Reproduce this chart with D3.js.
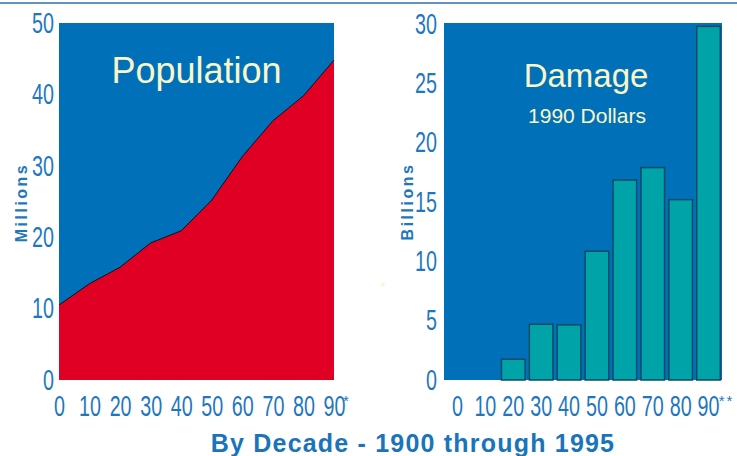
<!DOCTYPE html>
<html>
<head>
<meta charset="utf-8">
<script src="https://cdn.jsdelivr.net/npm/d3@7"></script>
<style>
  body { margin: 0; background: #fff; }
  svg { display: block; }
</style>
</head>
<body>
<div id="chart"></div>
<script>
const decades = ["0", "10", "20", "30", "40", "50", "60", "70", "80", "90"];
const population = [10.5, 13.5, 15.8, 19.2, 20.9, 25.2, 31.3, 36.3, 39.8, 44.8];
const damage = [0, 0, 1.75, 4.7, 4.65, 10.85, 16.85, 17.9, 15.2, 29.8];
const popTicks = [0, 10, 20, 30, 40, 50];
const dmgTicks = [0, 5, 10, 15, 20, 25, 30];

const W = 737, H = 456;
const blue = "#0071b9";
const labelBlue = "#1f77be";
const cream = "#fbf6c8";
const narrow = 0.68;

const svg = d3.select("#chart").append("svg")
  .attr("width", W).attr("height", H)
  .style("font-family", "'Liberation Sans', Arial, sans-serif");

// top rule
svg.append("line")
  .attr("x1", 0).attr("x2", W).attr("y1", 3).attr("y2", 3)
  .attr("stroke", "#2a6fad").attr("stroke-width", 1.5);

const styleAxis = (g, bottom) => {
  g.select(".domain").remove();
  g.selectAll("text")
    .attr("fill", labelBlue)
    .style("font-size", "29px")
    .attr("transform", `scale(${narrow},1)`);
  if (!bottom) g.selectAll("text").attr("x", -5 / narrow);
};

// ---------- population ----------
const px = d3.scalePoint().domain(decades).range([59, 334]);
const py = d3.scaleLinear().domain([0, 50]).range([380, 23]);

svg.append("rect")
  .attr("x", px.range()[0]).attr("y", py(50))
  .attr("width", px.range()[1] - px.range()[0]).attr("height", py(0) - py(50))
  .attr("fill", blue);

svg.append("path")
  .datum(population)
  .attr("fill", "#e00024")
  .attr("d", d3.area().x((d, i) => px(decades[i])).y0(py(0)).y1(d => py(d)));

svg.append("path")
  .datum(population)
  .attr("fill", "none").attr("stroke", "#111").attr("stroke-width", 1)
  .attr("d", d3.line().x((d, i) => px(decades[i])).y(d => py(d)));

svg.append("g").attr("transform", `translate(0,${py(0)})`)
  .call(d3.axisBottom(px).tickSize(0).tickPadding(15))
  .call(g => styleAxis(g, true));

svg.append("g").attr("transform", `translate(${px.range()[0]},0)`)
  .call(d3.axisLeft(py).tickValues(popTicks).tickSize(0))
  .call(g => styleAxis(g, false));

// footnote mark after "90"
svg.append("text")
  .attr("x", px(decades[9]) + 12).attr("y", 406)
  .attr("text-anchor", "middle").attr("fill", labelBlue)
  .style("font-size", "15px").text("*");

svg.append("text")
  .attr("transform", `translate(27,${(py(0) + py(50)) / 2 + 1}) rotate(-90)`)
  .attr("text-anchor", "middle").attr("fill", labelBlue)
  .style("font-size", "16px").style("font-weight", "bold").style("letter-spacing", "2.5px")
  .text("Millions");

svg.append("text")
  .attr("x", (px.range()[0] + px.range()[1]) / 2).attr("y", 83)
  .attr("text-anchor", "middle").attr("fill", cream)
  .style("font-size", "36px").text("Population");

// ---------- damage ----------
const bx = d3.scaleBand().domain(decades).range([444, 722]).paddingInner(0.155).paddingOuter(0.06);
const by = d3.scaleLinear().domain([0, 30]).range([380, 24]);

svg.append("rect")
  .attr("x", bx.range()[0]).attr("y", 23)
  .attr("width", bx.range()[1] - bx.range()[0]).attr("height", by(0) - 23)
  .attr("fill", blue);

svg.selectAll("rect.bar")
  .data(damage.map((v, i) => ({ k: decades[i], v })).filter(d => d.v > 0))
  .enter().append("rect")
  .attr("class", "bar")
  .attr("x", d => bx(d.k)).attr("width", bx.bandwidth())
  .attr("y", d => by(d.v)).attr("height", d => by(0) - by(d.v))
  .attr("fill", "#00a4a8").attr("stroke", "#0d4a66").attr("stroke-width", 1.5);

svg.append("g").attr("transform", `translate(0,${by(0)})`)
  .call(d3.axisBottom(bx).tickSize(0).tickPadding(15))
  .call(g => styleAxis(g, true));

svg.append("g").attr("transform", `translate(${bx.range()[0] - 2},0)`)
  .call(d3.axisLeft(by).tickValues(dmgTicks).tickSize(0))
  .call(g => styleAxis(g, false));

// footnote marks after "90"
svg.append("text")
  .attr("x", bx(decades[9]) + bx.bandwidth() / 2 + 18).attr("y", 406)
  .attr("text-anchor", "middle").attr("fill", labelBlue)
  .style("font-size", "15px").style("letter-spacing", "2px").text("**");

svg.append("text")
  .attr("transform", `translate(413,${(by(0) + 23) / 2}) rotate(-90)`)
  .attr("text-anchor", "middle").attr("fill", labelBlue)
  .style("font-size", "16px").style("font-weight", "bold").style("letter-spacing", "2.5px")
  .text("Billions");

svg.append("text")
  .attr("x", 586).attr("y", 87)
  .attr("text-anchor", "middle").attr("fill", cream)
  .style("font-size", "33px").text("Damage");

svg.append("text")
  .attr("x", 587).attr("y", 123)
  .attr("text-anchor", "middle").attr("fill", cream)
  .style("font-size", "21px").text("1990 Dollars");

// faint stray mark between panels
svg.append("text")
  .attr("x", 383).attr("y", 292)
  .attr("text-anchor", "middle").attr("fill", "#f4eeb0").attr("opacity", 0.6)
  .style("font-size", "14px").text("*");

// footer
svg.append("text")
  .attr("x", 413).attr("y", 452)
  .attr("text-anchor", "middle").attr("fill", "#1a74ba")
  .style("font-size", "25px").style("font-weight", "bold").style("letter-spacing", "1.2px")
  .text("By Decade - 1900 through 1995");
</script>
</body>
</html>
